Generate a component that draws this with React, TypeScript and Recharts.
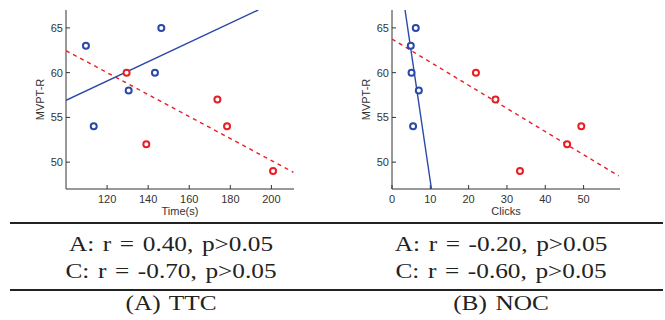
import { Label, Scatter, ScatterChart, XAxis, YAxis } from "recharts";

// (A) TTC panel
const ttcAX = [109.7, 113.5, 130.5, 143.3, 146.4];
const ttcAY = [63, 54, 58, 60, 65];
const ttcCX = [129.5, 139.1, 173.7, 178.4, 200.8];
const ttcCY = [60, 52, 57, 54, 49];
const ttcAFitX = [100, 193.6];
const ttcAFitY = [56.9, 67];
const ttcCFitX = [100, 210.7];
const ttcCFitY = [62.46, 48.87];
const ttcTicks = [120, 140, 160, 180, 200];

// (B) NOC panel
const nocAX = [4.9, 5.1, 5.5, 6.2, 7.0];
const nocAY = [63, 60, 54, 65, 58];
const nocCX = [21.9, 27.0, 33.4, 45.7, 49.4];
const nocCY = [60, 57, 49, 52, 54];
const nocAFitX = [3.4, 10.3];
const nocAFitY = [67, 47];
const nocCFitX = [0, 59.2];
const nocCFitY = [63.76, 48.45];
const nocTicks = [0, 10, 20, 30, 40, 50];

const yTicks = [50, 55, 60, 65];

const statsTTC = ["A: r = 0.40, p>0.05", "C: r = -0.70, p>0.05"];
const statsNOC = ["A: r = -0.20, p>0.05", "C: r = -0.60, p>0.05"];
const captions = ["(A) TTC", "(B) NOC"];

const BLUE = "#2a48a8";
const RED = "#ec1c24";
const SANS = "'Liberation Sans', Arial, sans-serif";
const SERIF = "'Liberation Serif', 'Times New Roman', serif";

const zip = (xs: number[], ys: number[]) => xs.map((x, i) => ({ x, y: ys[i] }));

const Ring = (color: string) => (props: any) => (
  <circle cx={props.cx} cy={props.cy} r={3} fill="#fff" stroke={color} strokeWidth={2} />
);

const Nothing = () => <g />;

type PanelProps = {
  left: number;
  width: number;
  axisW: number;
  xDomain: [number, number];
  xTicks: number[];
  xLabel: string;
  a: { x: number; y: number }[];
  c: { x: number; y: number }[];
  aFit: { x: number; y: number }[];
  cFit: { x: number; y: number }[];
};

function Panel(p: PanelProps) {
  const tickStyle = { fill: "#333", fontSize: 11, fontFamily: SANS };
  return (
    <div style={{ position: "absolute", left: p.left, top: 0 }}>
      <ScatterChart
        width={p.width}
        height={225}
        margin={{ top: 10, right: p.width - p.axisW - 228, bottom: 0, left: 0 }}
      >
        <XAxis
          type="number"
          dataKey="x"
          domain={p.xDomain}
          ticks={p.xTicks}
          allowDataOverflow
          height={36}
          tickSize={-4}
          tickMargin={10}
          axisLine={{ stroke: "#333" }}
          tickLine={{ stroke: "#333" }}
          tick={tickStyle}
        >
          <Label
            value={p.xLabel}
            position="insideBottom"
            offset={10}
            style={{ fill: "#333", fontSize: 11, fontFamily: SANS }}
          />
        </XAxis>
        <YAxis
          type="number"
          dataKey="y"
          domain={[47, 67]}
          ticks={yTicks}
          allowDataOverflow
          width={p.axisW}
          tickSize={-4}
          tickMargin={7}
          axisLine={{ stroke: "#333" }}
          tickLine={{ stroke: "#333" }}
          tick={tickStyle}
        >
          <Label
            content={({ viewBox }: any) => {
              const x = viewBox.x + viewBox.width - 26;
              const y = viewBox.y + viewBox.height / 2;
              return (
                <text
                  x={x}
                  y={y}
                  transform={`rotate(-90 ${x} ${y})`}
                  textAnchor="middle"
                  dominantBaseline="central"
                  fill="#333"
                  fontSize={11}
                  fontFamily={SANS}
                >
                  MVPT-R
                </text>
              );
            }}
          />
        </YAxis>
        <Scatter data={p.aFit} line={{ stroke: BLUE, strokeWidth: 1.4 }} shape={Nothing} isAnimationActive={false} />
        <Scatter
          data={p.cFit}
          line={{ stroke: RED, strokeWidth: 1.4, strokeDasharray: "4 4" }}
          shape={Nothing}
          isAnimationActive={false}
        />
        <Scatter data={p.a} shape={Ring(BLUE)} isAnimationActive={false} />
        <Scatter data={p.c} shape={Ring(RED)} isAnimationActive={false} />
      </ScatterChart>
    </div>
  );
}

function StatsTable() {
  const cols = [
    { cx: 171, rows: statsTTC, cap: captions[0] },
    { cx: 501, rows: statsNOC, cap: captions[1] },
  ];
  return (
    <svg
      width={665}
      height={320}
      style={{ position: "absolute", left: 0, top: 0, pointerEvents: "none" }}
      fontFamily={SERIF}
      fontSize={22}
      fill="#222"
      wordSpacing={2}
    >
      <line x1={10} x2={663} y1={223} y2={223} stroke="#222" strokeWidth={1.8} />
      <line x1={10} x2={663} y1={290} y2={290} stroke="#222" strokeWidth={1.8} />
      {cols.map((c) => (
        <g key={c.cap}>
          <text transform={`translate(${c.cx} 251) scale(1.15 1)`} textAnchor="middle">
            {c.rows[0]}
          </text>
          <text transform={`translate(${c.cx} 278) scale(1.15 1)`} textAnchor="middle">
            {c.rows[1]}
          </text>
          <text transform={`translate(${c.cx} 310) scale(1.15 1)`} textAnchor="middle">
            {c.cap}
          </text>
        </g>
      ))}
    </svg>
  );
}

export default function App() {
  return (
    <div style={{ position: "absolute", left: 0, top: 0, width: 665, height: 320, background: "#fff" }}>
      <Panel
        left={0}
        width={330}
        axisW={66}
        xDomain={[100, 211]}
        xTicks={ttcTicks}
        xLabel="Time(s)"
        a={zip(ttcAX, ttcAY)}
        c={zip(ttcCX, ttcCY)}
        aFit={zip(ttcAFitX, ttcAFitY)}
        cFit={zip(ttcCFitX, ttcCFitY)}
      />
      <Panel
        left={330}
        width={335}
        axisW={62}
        xDomain={[0, 59.5]}
        xTicks={nocTicks}
        xLabel="Clicks"
        a={zip(nocAX, nocAY)}
        c={zip(nocCX, nocCY)}
        aFit={zip(nocAFitX, nocAFitY)}
        cFit={zip(nocCFitX, nocCFitY)}
      />
      <StatsTable />
    </div>
  );
}
